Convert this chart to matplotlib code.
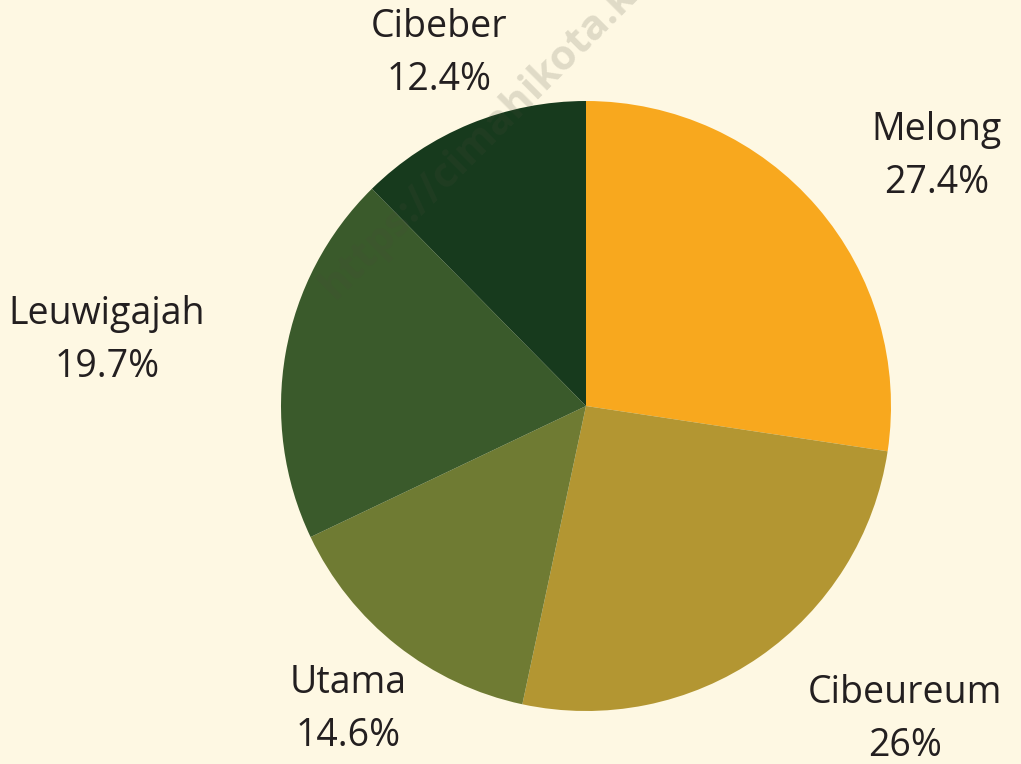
import matplotlib
matplotlib.use("Agg")
import matplotlib.pyplot as plt

categories = ["Melong", "Cibeureum", "Utama", "Leuwigajah", "Cibeber"]
values = [27.4, 26.0, 14.6, 19.7, 12.4]
pct_labels = ["27.4%", "26%", "14.6%", "19.7%", "12.4%"]
colors = ["#F8A81E", "#B39632", "#6F7B33", "#3A5A2B", "#173A1D"]

# label centres in pixel coordinates (layout)
label_pos = [(937, 157), (905, 720), (348, 710), (107, 341), (439, 54)]

W, H = 1021, 764
bg = "#FEF8E3"
fig = plt.figure(figsize=(W / 100, H / 100), dpi=100, facecolor=bg)
ax = fig.add_axes([0, 0, 1, 1])

cx, cy, r = 586, H - 406, 305
ax.pie(values, colors=colors, startangle=90, counterclock=False,
       center=(cx, cy), radius=r, frame=True,
       wedgeprops=dict(linewidth=0))
ax.set_xlim(0, W)
ax.set_ylim(0, H)
ax.set_aspect("equal")
ax.axis("off")

font = "Open Sans"
for name, pct, (x, y) in zip(categories, pct_labels, label_pos):
    ax.text(x, H - y + 27, name, ha="center", va="center", fontsize=27,
            family=font, color="#231F20")
    ax.text(x, H - y - 26, pct, ha="center", va="center", fontsize=27,
            family=font, color="#231F20")

ax.text(335, H - 300, "https://cimahikota.k", rotation=45,
        rotation_mode="anchor", ha="left", va="baseline", fontsize=30,
        fontweight="bold", family=font, color="#4a4a3a", alpha=0.17,
        clip_on=True)

fig.savefig("out.png", dpi=100, facecolor=bg)
